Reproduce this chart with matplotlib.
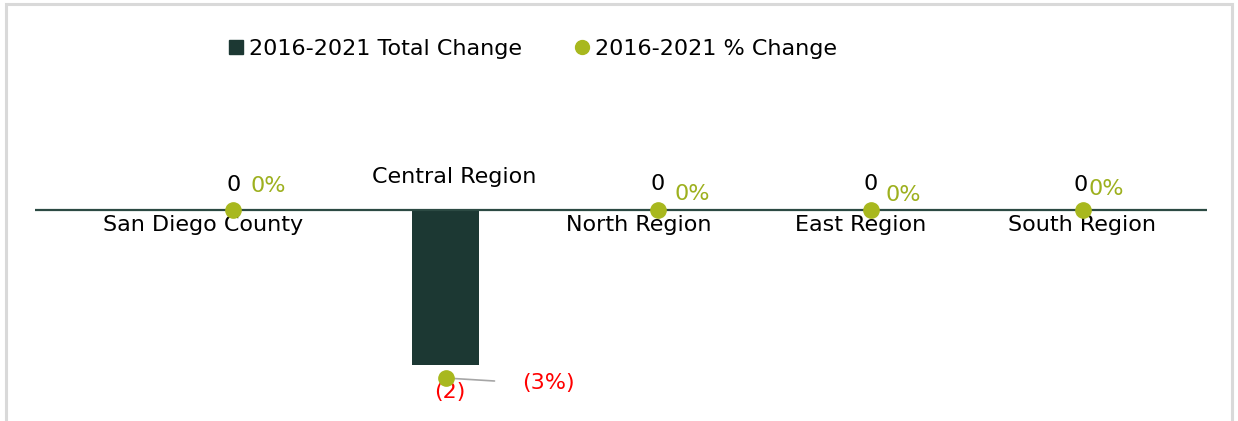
import matplotlib.pyplot as plt
from matplotlib.lines import Line2D
from matplotlib.patches import Rectangle

# data
regions = ["San Diego County", "Central Region", "North Region", "East Region", "South Region"]
total_change = [0, -2, 0, 0, 0]
pct_change = [0.0, -0.03, 0.0, 0.0, 0.0]

bar_color = "#1C3833"
dot_color = "#A8B81E"
pct_text = "#9DB01E"
axis_color = "#2C4A43"

W, H = 1238, 421
fig = plt.figure(figsize=(W / 100, H / 100), dpi=100)
plt.rcParams['font.family'] = ['DejaVu Sans']

# grey frame of the chart object (cropped at the bottom)
fig.patches.append(Rectangle((6 / W, -0.1), 1226 / W, 1.1 - 4 / H, transform=fig.transFigure,
                             fill=False, edgecolor="#D9D9D9", linewidth=2.2))

# axes placed so the zero line runs from x=35 to x=1207 px, y=210 px
top, bottom = 80, 410
ax = fig.add_axes([35 / W, 1 - bottom / H, (1207 - 35) / W, (bottom - top) / H])
ax2 = ax.twinx()

step = 212.5
ax.set_xlim((35 - 233) / step, (1207 - 233) / step)
ppu = 77.5
ax.set_ylim(-(bottom - 210) / ppu, (210 - top) / ppu)
ppu2 = 5600
ax2.set_ylim(-(bottom - 210) / ppu2, (210 - top) / ppu2)

for a in (ax, ax2):
    a.axis("off")

x = list(range(len(regions)))
ax.bar(x, total_change, width=67 / step, color=bar_color, zorder=2)
ax.axhline(0, color=axis_color, linewidth=1.6, zorder=3)
ax2.plot(x, pct_change, "o", color=dot_color, markersize=11, linestyle="none", zorder=5)

fs = 16

# category labels (Excel-style placement)
label_off = [(-30, -15), (9, 33), (-19, -15), (-10, -15), (-1, -15)]
for i, name in enumerate(regions):
    ax.annotate(name, (i, 0), xytext=label_off[i], textcoords="offset pixels",
                ha="center", va="center", fontsize=fs, color="black")

# data labels
tot_off = [(1, 25), (4, -27), (0, 26), (0, 26), (-2, 25)]
pct_off = [(35, 24), (103, -5), (34, 16), (33, 15), (23, 21)]
for i in x:
    v = total_change[i]
    s = f"({abs(v)})" if v < 0 else f"{v}"
    ax.annotate(s, (i, v), xytext=tot_off[i], textcoords="offset pixels",
                ha="center", va="center", fontsize=fs,
                color="red" if v < 0 else "black", zorder=6)
    p = pct_change[i]
    ps = f"({abs(p) * 100:.0f}%)" if p < 0 else f"{p * 100:.0f}%"
    if p < 0:
        ax2.annotate(ps, (i, p), xytext=pct_off[i], textcoords="offset pixels",
                     ha="center", va="center", fontsize=fs, color="red", zorder=6)
        ax2.annotate("", (i, p), xytext=(49, -3), textcoords="offset pixels",
                     arrowprops=dict(arrowstyle="-", color="#A6A6A6", lw=1.2,
                                     shrinkA=0, shrinkB=0), zorder=4)
    else:
        ax2.annotate(ps, (i, p), xytext=pct_off[i], textcoords="offset pixels",
                     ha="center", va="center", fontsize=fs, color=pct_text, zorder=6)

# legend
handles = [
    Line2D([], [], marker="s", color=bar_color, linestyle="none", markersize=9.5),
    Line2D([], [], marker="o", color=dot_color, linestyle="none", markersize=10),
]
fig.legend(handles, ["2016-2021 Total Change", "2016-2021 % Change"],
           loc="center", bbox_to_anchor=(531 / W, 1 - 49 / H), ncol=2, frameon=False,
           fontsize=fs, handletextpad=0.1, columnspacing=2.2, handlelength=1.0)

fig.savefig("out.png", dpi=100)
